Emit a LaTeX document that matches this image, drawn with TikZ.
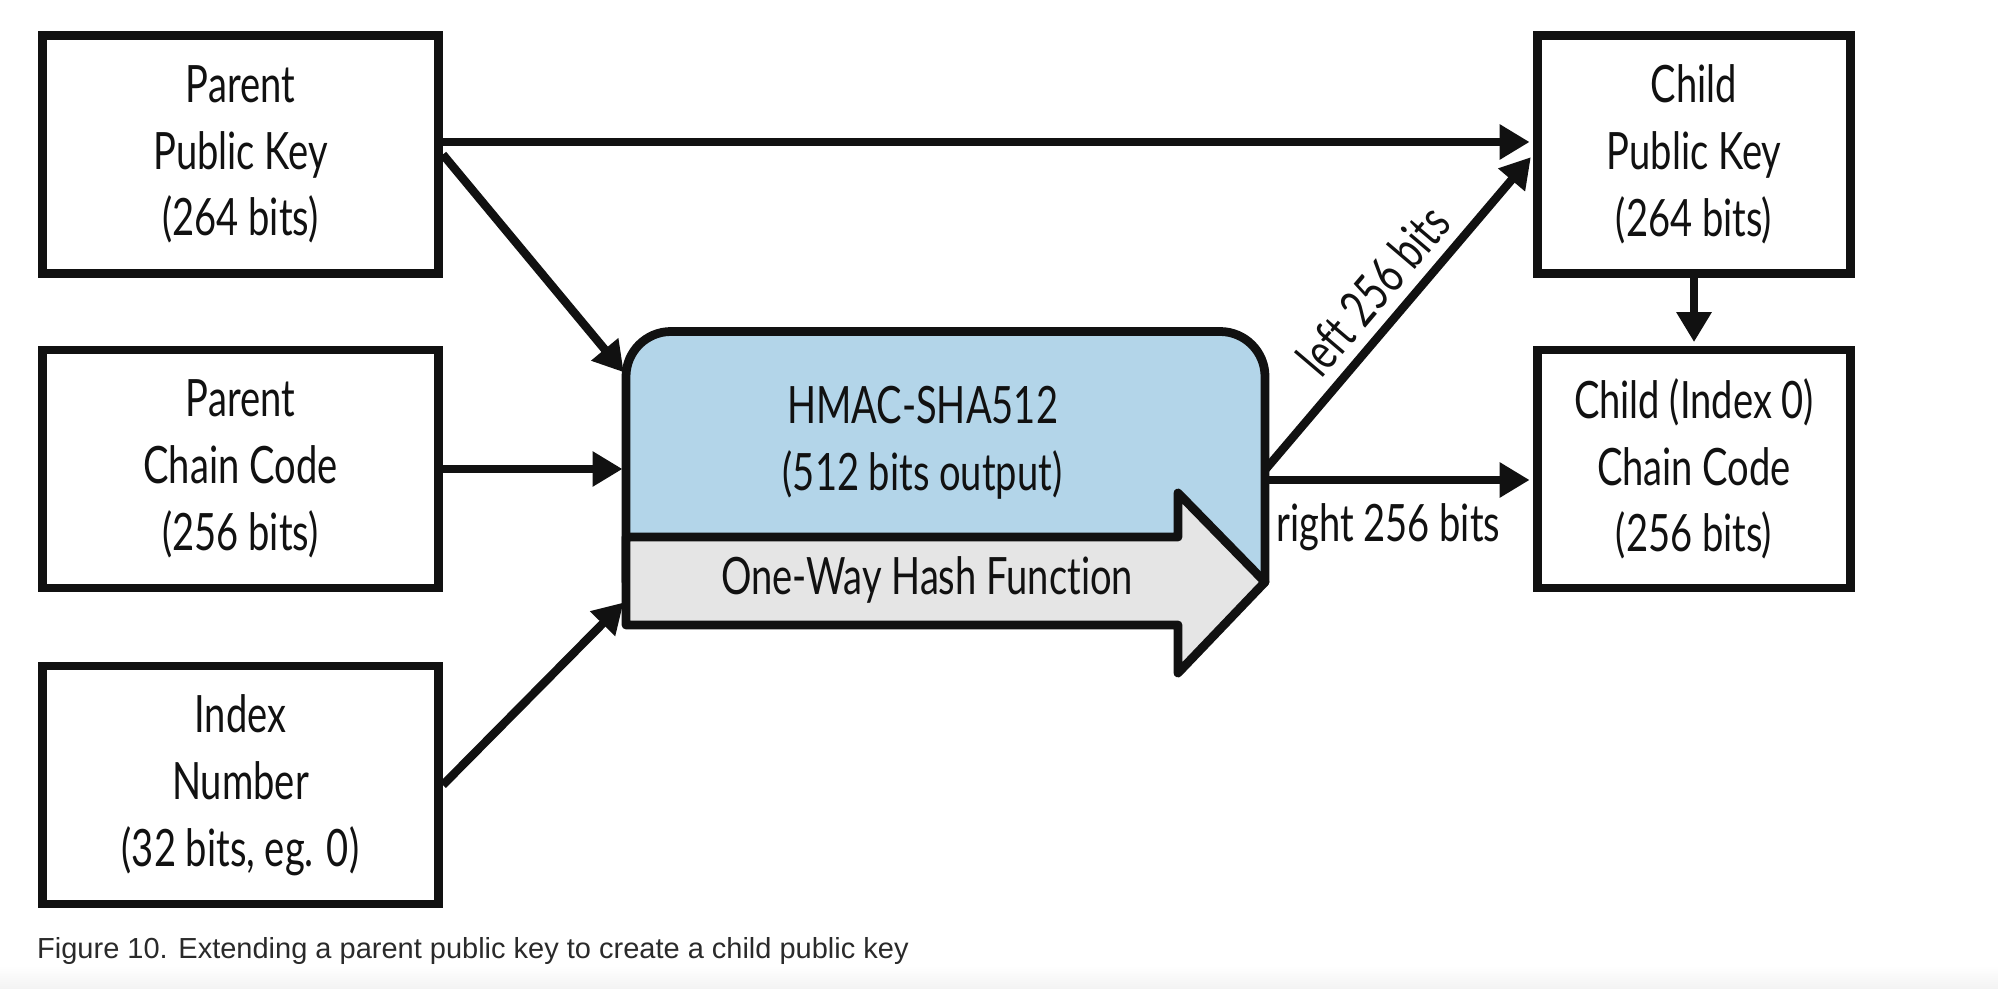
\documentclass[tikz,border=0pt]{standalone}
\usepackage{fontspec}
\setmainfont[FakeStretch=0.74, Ligatures=NoCommon]{Lato}
\newfontfamily\capfont{Liberation Sans}
\usetikzlibrary{arrows.meta, positioning}
\definecolor{chash}{HTML}{B3D5E9}
\definecolor{cshaft}{HTML}{E5E5E5}
\definecolor{cink}{HTML}{111111}
\definecolor{cfoot}{HTML}{F3F3F3}
\definecolor{ccap}{HTML}{2A2A2A}

\begin{document}
\begin{tikzpicture}[
  font=\fontsize{29.3}{38}\selectfont,
  keybox/.style={draw=cink, fill=white, line width=5pt, text=cink, align=center,
                 minimum width=7.92cm, minimum height=4.76cm},
  childbox/.style={keybox, minimum width=6.26cm},
  blk/.style={draw=cink, line width=5pt, line join=round},
  lbl/.style={text=cink, inner sep=4pt},
  flow/.style={-{Triangle[length=17pt, width=19pt]}, line width=4.8pt, draw=cink,
               shorten >=2pt}
]
\useasboundingbox (0,0) rectangle (39.96,19.76);
\shade[top color=white, bottom color=cfoot] (0,0) rectangle (39.96,0.45);

% inputs
\node[keybox] (ppk) at (4.81,16.67) {Parent\\Public Key\\(264 bits)};
\node[keybox] (pcc) at (4.81,10.38) {Parent\\Chain Code\\(256 bits)};
\node[keybox] (idx) at (4.81,4.06)  {Index\\Number\\(32 bits, eg. 0)};

% outputs
\node[childbox] (cpk) at (33.88,16.67) {Child\\Public Key\\(264 bits)};
\node[childbox] (ccc) at (33.88,10.38) {Child (Index 0)\\Chain Code\\(256 bits)};

% hash block
\coordinate (hsw)  at (12.52,8.12);
\coordinate (hnw)  at (12.52,13.13);
\coordinate (hne)  at (25.30,13.13);
\coordinate (htip) at (25.30,8.12);
\draw[blk, fill=chash] (hsw) [rounded corners=0.9cm] -- (hnw) -- (hne) [sharp corners] -- (htip) -- cycle;
\draw[blk, fill=cshaft] (12.52,9.02) -- (23.56,9.02) -- (23.56,9.90) -- (htip)
  -- (23.56,6.30) -- (23.56,7.26) -- (12.52,7.26) -- cycle;
\node[text=cink, align=center] (hmac) at (18.45,10.90) {HMAC-SHA512\\(512 bits output)};
\node[text=cink] (owhf) at (18.54,8.16) {One-Way Hash Function};

\coordinate (in1)  at (12.52,12.26);
\coordinate (in3)  at (12.52,7.76);
\coordinate (out1) at (25.30,10.36);
\coordinate (out2) at (25.30,10.16);
\coordinate (pkr)  at ([yshift=0.25cm]ppk.east);

\draw[flow] (pkr) -- (pkr -| cpk.west);
\draw[flow] (ppk.east) -- (in1);
\draw[flow] (pcc.east) -- (pcc.east -| hnw);
\draw[flow] (idx.east) -- (in3);
\draw[flow] (out1) -- node[lbl, midway, sloped, above=2pt] {left 256 bits} (cpk.west);
\draw[flow] (out2) -- node[lbl, pos=0.46, below=7pt] {right 256 bits} (out2 -| ccc.west);
\draw[flow] (cpk) -- (ccc);

\node[anchor=base west, text=ccap, font=\capfont\fontsize{16.5}{20}\selectfont] (cap) at (0.62,0.6)
  {Figure 10. Extending a parent public key to create a child public key};
\end{tikzpicture}
\end{document}
